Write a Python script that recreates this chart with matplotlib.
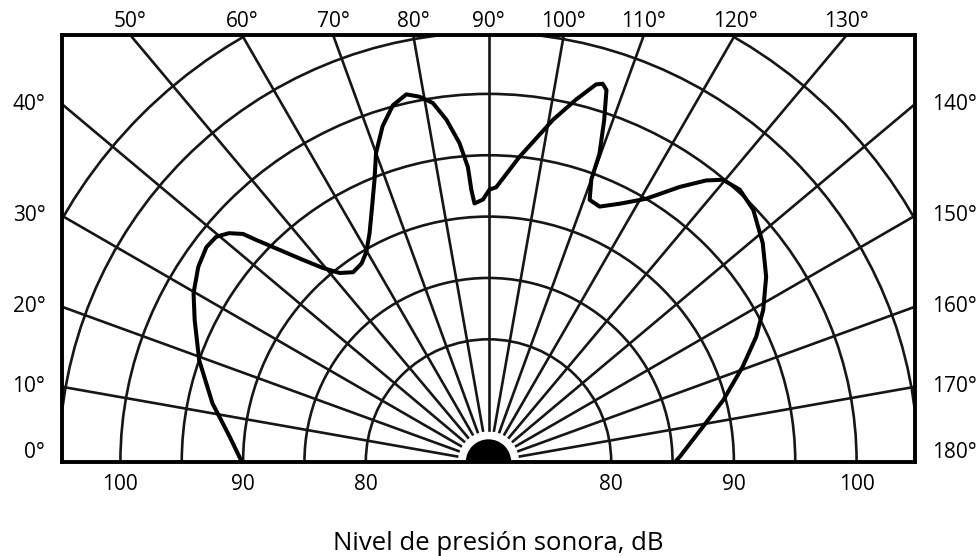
import numpy as np
import matplotlib.pyplot as plt
from matplotlib.patches import Circle, Wedge

plt.rcParams['font.family'] = ['Open Sans', 'DejaVu Sans']
plt.rcParams['font.weight'] = 'normal'

# directivity curve, angle measured from the left (0°) to the right (180°)
angles_deg = [0.0, 5.6, 12.0, 19.4, 25.8, 29.8, 33.9, 37.3, 39.6, 41.4,
              42.9, 43.7, 45.4, 47.4, 49.5, 51.8, 54.5, 57.4, 59.8, 62.5,
              64.8, 68.0, 70.0, 72.5, 75.0, 77.4, 79.3, 81.2, 83.0, 84.8,
              86.0, 86.4, 86.9, 88.8, 90.2, 91.6, 95.8, 100.7, 103.6, 105.9,
              106.8, 107.6, 108.7, 109.8, 110.0, 111.1, 113.5, 116.9, 120.9, 124.8,
              127.7, 129.7, 132.7, 136.4, 141.4, 146.3, 151.0, 154.9, 159.5, 165.2,
              170.7, 178.4, 180.0]
levels_db = [90.1, 91.2, 93.0, 95.0, 96.6, 97.7, 98.5, 98.9, 98.8, 98.2,
             97.3, 96.2, 94.3, 92.4, 90.8, 89.6, 89.0, 89.2, 89.8, 91.0,
             92.4, 94.8, 96.8, 98.7, 100.1, 100.7, 100.3, 99.6, 98.1, 96.1,
             94.1, 92.2, 91.1, 91.4, 92.2, 92.4, 95.0, 98.4, 100.4, 102.0,
             102.2, 101.8, 99.4, 96.7, 94.5, 92.9, 92.7, 93.6, 95.0, 97.3,
             99.0, 99.9, 100.2, 99.8, 98.6, 97.2, 95.6, 94.1, 92.1, 89.8,
             87.7, 85.6, 85.2]

grid_angles = list(range(0, 181, 10))
ring_levels = [80, 85, 90, 95, 100, 105, 110]
db_tick_levels = [80, 90, 100]
base_db = 70
xlabel_text = 'Nivel de presión sonora, dB'

half_w = 34.76
top_h = 34.80


def to_xy(theta, db):
    t = np.radians(theta)
    r = np.asarray(db, dtype=float) - base_db
    return -r * np.cos(t), r * np.sin(t)


fig = plt.figure(figsize=(9.8, 5.56), dpi=100)
ax = fig.add_axes([62 / 980, 94 / 556, 853 / 980, 427 / 556])
ax.set_xlim(-half_w, half_w)
ax.set_ylim(0, top_h)
ax.set_xticks([])
ax.set_yticks([])
for sp in ax.spines.values():
    sp.set_linewidth(2.8)
    sp.set_zorder(6)

grid_kw = dict(color='#161616', lw=1.9)

# rings
for lev in ring_levels:
    ax.add_patch(Circle((0, 0), lev - base_db, fill=False, ec=grid_kw['color'],
                        lw=grid_kw['lw'], zorder=2))

# radial lines
for a in grid_angles:
    xs, ys = to_xy(np.array([a, a]), np.array([base_db + 2.6, base_db + 80]))
    ax.plot(xs, ys, zorder=2, **grid_kw)

# source marker at the centre
ax.add_patch(Wedge((0, 0), 1.85, 0, 180, fc='black', ec='none', zorder=4))

# measured curve
cx, cy = to_xy(np.array(angles_deg), np.array(levels_db))
ax.plot(cx, cy, color='black', lw=2.9, solid_joinstyle='round',
        solid_capstyle='round', zorder=5)

# angle labels round the frame
lab_fs = 15
for a in grid_angles:
    t = np.radians(a)
    dx, dy = -np.cos(t), np.sin(t)
    if dy > 0 and abs(dx) * top_h / dy <= half_w:
        x_hit = dx * top_h / dy
        ax.annotate(f'{a}°', (x_hit, top_h), xytext=(0, 9.5), textcoords='offset points',
                    ha='center', va='center', fontsize=lab_fs, annotation_clip=False)
    else:
        y_hit = max(abs(dy / dx) * half_w, 0.8)
        if dx < 0:
            ax.annotate(f'{a}°', (-half_w, y_hit), xytext=(-12, 0), textcoords='offset points',
                        ha='right', va='center', fontsize=lab_fs, annotation_clip=False)
        else:
            ax.annotate(f'{a}°', (half_w, y_hit), xytext=(12, 0), textcoords='offset points',
                        ha='left', va='center', fontsize=lab_fs, annotation_clip=False)

# level labels along the bottom
for lev in db_tick_levels:
    for side in (-1, 1):
        ax.annotate(f'{lev}', (side * (lev - base_db), 0), xytext=(0, -16.5),
                    textcoords='offset points', ha='center', va='center',
                    fontsize=15, annotation_clip=False)

fig.text(498 / 980, 6 / 556, xlabel_text, ha='center', va='baseline', fontsize=18.5)

fig.savefig('out.png', dpi=100)
